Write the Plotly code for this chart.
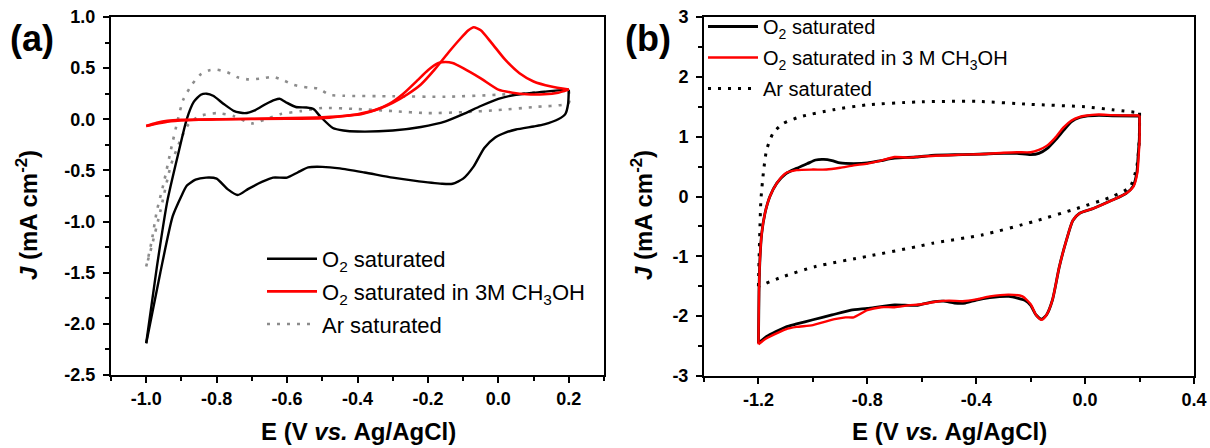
import plotly.graph_objects as go

# ---------------- Panel (a) data ----------------
a_o2_fwd_x = [-1.0, -0.97, -0.94, -0.91, -0.885, -0.865, -0.845, -0.828, -0.81, -0.78, -0.75, -0.72, -0.69, -0.66,
              -0.635, -0.62, -0.6, -0.575, -0.545, -0.525, -0.505, -0.47, -0.44, -0.4, -0.3, -0.22, -0.15, -0.1,
              -0.05, 0.0, 0.05, 0.1, 0.2]
a_o2_fwd_y = [-2.19, -1.45, -0.8, -0.35, 0.0, 0.17, 0.24, 0.25, 0.23, 0.15, 0.08, 0.06, 0.09, 0.15,
              0.19, 0.2, 0.16, 0.12, 0.115, 0.1, 0.025, -0.085, -0.11, -0.12, -0.11, -0.075, -0.02, 0.05,
              0.13, 0.2, 0.24, 0.26, 0.29]
a_o2_rev_x = [0.2, 0.198, 0.19, 0.17, 0.13, 0.1, 0.05, 0.02, -0.01, -0.04, -0.07, -0.1, -0.13, -0.16, -0.24,
              -0.3, -0.38, -0.45, -0.5, -0.54, -0.57, -0.6, -0.64, -0.67, -0.71, -0.74, -0.77, -0.8, -0.83,
              -0.86, -0.885, -0.9, -0.925, -0.96, -1.0]
a_o2_rev_y = [0.29, 0.15, 0.05, 0.0, -0.05, -0.07, -0.1, -0.13, -0.18, -0.28, -0.46, -0.58, -0.63, -0.63, -0.6,
              -0.57, -0.52, -0.48, -0.465, -0.47, -0.52, -0.57, -0.57, -0.61, -0.68, -0.74, -0.68, -0.58, -0.57,
              -0.59, -0.65, -0.75, -0.95, -1.5, -2.19]

a_me_fwd_x = [-1.0, -0.97, -0.94, -0.9, -0.8, -0.6, -0.5, -0.43, -0.39, -0.34, -0.3, -0.26, -0.22, -0.18,
              -0.14, -0.11, -0.085, -0.07, -0.05, -0.02, 0.02, 0.06, 0.1, 0.15, 0.2]
a_me_fwd_y = [-0.065, -0.035, -0.015, -0.005, 0.0, 0.005, 0.01, 0.035, 0.05, 0.1, 0.16, 0.24, 0.34, 0.49,
              0.66, 0.78, 0.87, 0.9, 0.87, 0.75, 0.58, 0.45, 0.37, 0.32, 0.29]
a_me_rev_x = [0.2, 0.17, 0.13, 0.08, 0.04, 0.0, -0.05, -0.1, -0.13, -0.15, -0.17, -0.2, -0.23, -0.27, -0.31,
              -0.35, -0.4, -0.45, -0.55, -0.7, -0.85, -0.93, -1.0]
a_me_rev_y = [0.29, 0.26, 0.245, 0.245, 0.26, 0.29, 0.4, 0.5, 0.55, 0.56, 0.55, 0.48, 0.38, 0.25, 0.15,
              0.09, 0.05, 0.03, 0.015, 0.005, -0.005, -0.02, -0.065]

a_ar_fwd_x = [-1.0, -0.985, -0.97, -0.95, -0.93, -0.91, -0.895, -0.87, -0.845, -0.82, -0.8, -0.77, -0.74,
              -0.71, -0.67, -0.64, -0.61, -0.58, -0.54, -0.51, -0.48, -0.44, -0.3, -0.15, 0.0, 0.1, 0.2]
a_ar_fwd_y = [-1.44, -1.2, -0.9, -0.62, -0.3, 0.0, 0.19, 0.34, 0.44, 0.48, 0.485, 0.46, 0.41,
              0.39, 0.4, 0.415, 0.38, 0.335, 0.31, 0.3, 0.24, 0.23, 0.225, 0.22, 0.24, 0.26, 0.28]
a_ar_rev_x = [0.2, 0.2, 0.1, 0.0, -0.1, -0.2, -0.3, -0.4, -0.5, -0.56, -0.62, -0.66, -0.7, -0.75, -0.8,
              -0.85, -0.88, -0.9, -0.93, -0.96, -0.985, -1.0]
a_ar_rev_y = [0.28, 0.16, 0.12, 0.09, 0.07, 0.06, 0.08, 0.1, 0.11, 0.08, 0.05, 0.0, -0.04, 0.03, 0.06,
              0.03, -0.05, -0.18, -0.45, -0.9, -1.25, -1.44]

# ---------------- Panel (b) data ----------------
b_o2_fwd_x = [-1.2, -1.198, -1.195, -1.188, -1.176, -1.158, -1.133, -1.1, -1.06, -1.02, -0.99, -0.96, -0.93,
              -0.9, -0.85, -0.8, -0.75, -0.7, -0.62, -0.55, -0.45, -0.37, -0.3, -0.25, -0.2, -0.17, -0.14,
              -0.11, -0.08, -0.05, -0.02, 0.0, 0.05, 0.1, 0.2]
b_o2_fwd_y = [-2.45, -1.6, -1.1, -0.62, -0.28, 0.0, 0.22, 0.38, 0.47, 0.55, 0.61, 0.62, 0.6,
              0.56, 0.55, 0.56, 0.6, 0.64, 0.66, 0.69, 0.7, 0.71, 0.72, 0.72, 0.7, 0.72, 0.8,
              0.94, 1.1, 1.25, 1.32, 1.34, 1.355, 1.35, 1.345]
b_o2_rev_x = [0.2, 0.199, 0.195, 0.19, 0.176, 0.15, 0.1, 0.03, -0.02, -0.045, -0.07, -0.095, -0.12, -0.142,
              -0.16, -0.18, -0.2, -0.22, -0.28, -0.35, -0.4, -0.44, -0.48, -0.52, -0.56, -0.62, -0.7, -0.8,
              -0.86, -0.93, -1.0, -1.06, -1.1, -1.17, -1.2]
b_o2_rev_y = [1.345, 0.95, 0.7, 0.4, 0.17, 0.05, -0.06, -0.2, -0.28, -0.4, -0.75, -1.18, -1.73, -1.98,
              -2.05, -1.98, -1.82, -1.74, -1.67, -1.69, -1.73, -1.78, -1.78, -1.75, -1.76, -1.82, -1.81, -1.87,
              -1.9, -1.98, -2.06, -2.13, -2.18, -2.34, -2.45]

b_me_fwd_x = [-1.2, -1.198, -1.195, -1.188, -1.176, -1.158, -1.133, -1.1, -1.06, -1.0, -0.95, -0.9, -0.85,
              -0.8, -0.75, -0.7, -0.65, -0.6, -0.55, -0.45, -0.37, -0.3, -0.25, -0.2, -0.17, -0.14, -0.11,
              -0.08, -0.05, -0.02, 0.0, 0.05, 0.1, 0.2]
b_me_fwd_y = [-2.47, -1.6, -1.1, -0.62, -0.28, 0.0, 0.22, 0.39, 0.44, 0.45, 0.45, 0.48, 0.52,
              0.55, 0.6, 0.66, 0.65, 0.67, 0.68, 0.7, 0.71, 0.73, 0.74, 0.74, 0.78, 0.85, 0.98,
              1.15, 1.27, 1.33, 1.35, 1.37, 1.36, 1.355]
b_me_rev_x = [0.2, 0.2, 0.197, 0.192, 0.178, 0.15, 0.1, 0.03, -0.02, -0.045, -0.07, -0.095, -0.12, -0.142,
              -0.16, -0.18, -0.2, -0.23, -0.28, -0.35, -0.4, -0.45, -0.5, -0.55, -0.6, -0.65, -0.7, -0.75,
              -0.8, -0.85, -0.88, -0.92, -1.0, -1.06, -1.1, -1.17, -1.2]
b_me_rev_y = [1.355, 0.95, 0.7, 0.4, 0.17, 0.05, -0.06, -0.2, -0.28, -0.4, -0.75, -1.18, -1.73, -1.98,
              -2.06, -1.98, -1.8, -1.67, -1.64, -1.67, -1.72, -1.75, -1.74, -1.76, -1.8, -1.82, -1.85, -1.85,
              -1.9, -2.02, -2.02, -2.05, -2.15, -2.18, -2.22, -2.37, -2.47]

b_ar_fwd_x = [-1.2, -1.198, -1.195, -1.191, -1.182, -1.17, -1.146, -1.109, -1.048, -0.925, -0.803, -0.62,
              -0.4, -0.2, 0.0, 0.1, 0.2]
b_ar_fwd_y = [-1.5, -1.1, -0.6, -0.06, 0.39, 0.78, 1.06, 1.22, 1.33, 1.45, 1.53, 1.58,
              1.59, 1.54, 1.5, 1.45, 1.4]
b_ar_rev_x = [0.2, 0.199, 0.19, 0.165, 0.1, -0.03, -0.19, -0.375, -0.56, -0.62, -0.8, -0.99, -1.11, -1.2]
b_ar_rev_y = [1.4, 0.95, 0.5, 0.16, 0.0, -0.2, -0.42, -0.64, -0.78, -0.84, -1.0, -1.17, -1.34, -1.5]

# ---------------- tick labels ----------------
a_xticks = [-1.0, -0.8, -0.6, -0.4, -0.2, 0.0, 0.2]
a_xticktext = ["-1.0", "-0.8", "-0.6", "-0.4", "-0.2", "0.0", "0.2"]
a_yticks = [-2.5, -2.0, -1.5, -1.0, -0.5, 0.0, 0.5, 1.0]
a_yticktext = ["-2.5", "-2.0", "-1.5", "-1.0", "-0.5", "0.0", "0.5", "1.0"]
b_xticks = [-1.2, -0.8, -0.4, 0.0, 0.4]
b_xticktext = ["-1.2", "-0.8", "-0.4", "0.0", "0.4"]
b_yticks = [-3, -2, -1, 0, 1, 2, 3]
b_yticktext = ["-3", "-2", "-1", "0", "1", "2", "3"]

legend_names_a = ["O<sub>2</sub> saturated", "O<sub>2</sub> saturated in 3M CH<sub>3</sub>OH", "Ar saturated"]
legend_names_b = ["O<sub>2</sub> saturated", "O<sub>2</sub> saturated in 3 M CH<sub>3</sub>OH", "Ar saturated"]

FONT = "Arial, Liberation Sans, sans-serif"
# the page body margin is removed after plotting (post_script), so figure px == window px
W, H = 1210, 448


def PX(px):
    return px / W


def PY(py):
    return 1 - py / H


fig = go.Figure()


def add_pair(xf, yf, xr, yr, name, color, width, dash, xa, ya, legend, group, rank):
    for i, (xx, yy) in enumerate([(xf, yf), (xr, yr)]):
        fig.add_trace(go.Scatter(
            x=xx, y=yy, mode="lines", name=name,
            line=dict(color=color, width=width, dash=dash, shape="spline", smoothing=0.6),
            xaxis=xa, yaxis=ya, legend=legend, legendgroup=group, legendrank=rank,
            showlegend=(i == 0), hoverinfo="skip"))


# panel (a)
add_pair(a_ar_fwd_x, a_ar_fwd_y, a_ar_rev_x, a_ar_rev_y, legend_names_a[2], "#8c8c8c", 2.6, "3px,7px", "x", "y", "legend", "a3", 3)
add_pair(a_o2_fwd_x, a_o2_fwd_y, a_o2_rev_x, a_o2_rev_y, legend_names_a[0], "black", 2.4, "solid", "x", "y", "legend", "a1", 1)
add_pair(a_me_fwd_x, a_me_fwd_y, a_me_rev_x, a_me_rev_y, legend_names_a[1], "#ff0000", 2.6, "solid", "x", "y", "legend", "a2", 2)
# panel (b)
add_pair(b_ar_fwd_x, b_ar_fwd_y, b_ar_rev_x, b_ar_rev_y, legend_names_b[2], "black", 3, "3px,7px", "x2", "y2", "legend2", "b3", 3)
add_pair(b_o2_fwd_x, b_o2_fwd_y, b_o2_rev_x, b_o2_rev_y, legend_names_b[0], "black", 2.8, "solid", "x2", "y2", "legend2", "b1", 1)
add_pair(b_me_fwd_x, b_me_fwd_y, b_me_rev_x, b_me_rev_y, legend_names_b[1], "#ff0000", 2.4, "solid", "x2", "y2", "legend2", "b2", 2)

tickfont = dict(family=FONT, size=18, color="black", weight="bold")


def axis_common():
    return dict(showline=True, linecolor="black", linewidth=2, mirror=True, ticks="outside",
                ticklen=6, tickwidth=2, tickcolor="black", showgrid=False, zeroline=False,
                tickfont=tickfont, automargin=False, ticklabeloverflow="allow")


fig.update_layout(
    width=W, height=H, paper_bgcolor="white", plot_bgcolor="white",
    margin=dict(l=0, r=0, t=0, b=0, pad=0, autoexpand=False),
    xaxis=dict(domain=[PX(111), PX(604)], range=[-1.1, 0.3], tickvals=a_xticks, ticktext=a_xticktext,
               minor=dict(dtick=0.1, tick0=0, ticklen=4, tickwidth=2, ticks="outside", tickcolor="black"),
               anchor="y", **axis_common()),
    yaxis=dict(domain=[PY(375), PY(17)], range=[-2.5, 1.0], tickvals=a_yticks, ticktext=a_yticktext,
               minor=dict(dtick=0.25, tick0=0, ticklen=4, tickwidth=2, ticks="outside", tickcolor="black"),
               anchor="x", ticklabelstandoff=4, **axis_common()),
    xaxis2=dict(domain=[PX(704), PX(1194)], range=[-1.4, 0.4], tickvals=b_xticks, ticktext=b_xticktext,
                minor=dict(dtick=0.2, tick0=0, ticklen=4, tickwidth=2, ticks="outside", tickcolor="black"),
                anchor="y2", **axis_common()),
    yaxis2=dict(domain=[PY(376), PY(17)], range=[-3, 3], tickvals=b_yticks, ticktext=b_yticktext,
                minor=dict(dtick=0.5, tick0=0, ticklen=4, tickwidth=2, ticks="outside", tickcolor="black"),
                anchor="x2", ticklabelstandoff=4, **axis_common()),
    legend=dict(x=PX(262), y=PY(238), xanchor="left", yanchor="top", bgcolor="rgba(0,0,0,0)",
                font=dict(family=FONT, size=22, color="black"), traceorder="grouped",
                tracegroupgap=1, itemwidth=50),
    legend2=dict(x=PX(703), y=PY(7), xanchor="left", yanchor="top", bgcolor="rgba(0,0,0,0)",
                 font=dict(family=FONT, size=20, color="black"), traceorder="grouped",
                 tracegroupgap=2, itemwidth=50),
)

title_font = dict(family=FONT, size=24, color="black", weight="bold")
ann = [
    dict(text="(a)", x=PX(8), y=PY(39), xanchor="left", yanchor="middle",
         font=dict(family=FONT, size=36, color="black", weight="bold")),
    dict(text="(b)", x=PX(623), y=PY(39), xanchor="left", yanchor="middle",
         font=dict(family=FONT, size=36, color="black", weight="bold")),
    dict(text="E (V <i>vs.</i> Ag/AgCl)", x=PX(358), y=PY(431), xanchor="center", yanchor="middle",
         font=title_font),
    dict(text="E (V <i>vs.</i> Ag/AgCl)", x=PX(949), y=PY(431), xanchor="center", yanchor="middle",
         font=title_font),
    dict(text="<i>J</i> (mA cm<sup>-2</sup>)", x=PX(27), y=PY(215), xanchor="center", yanchor="middle",
         textangle=-90, font=title_font),
    dict(text="<i>J</i> (mA cm<sup>-2</sup>)", x=PX(642), y=PY(215), xanchor="center", yanchor="middle",
         textangle=-90, font=title_font),
]
for a in ann:
    a.update(xref="paper", yref="paper", showarrow=False)
fig.update_layout(annotations=ann)

fig.write_html("out.html", config={"displayModeBar": False},
               post_script="document.body.style.margin='0';document.body.style.overflow='hidden';")
